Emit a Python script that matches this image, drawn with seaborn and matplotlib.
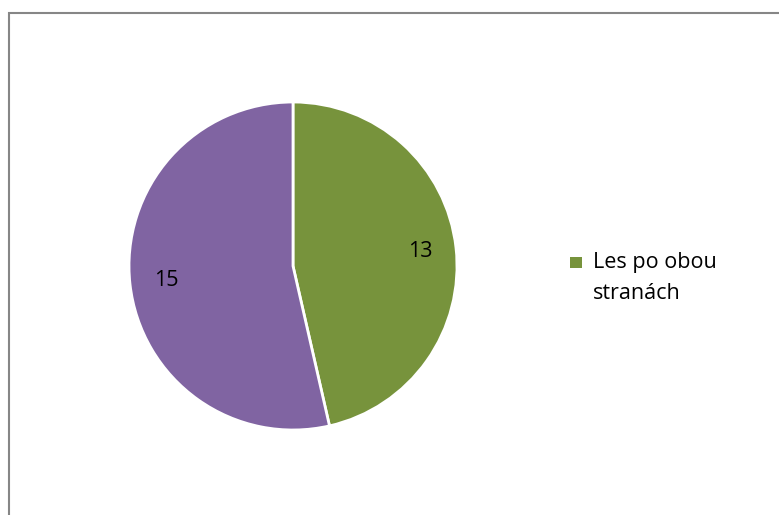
import seaborn as sns
import matplotlib.pyplot as plt
from matplotlib.patches import Rectangle
from matplotlib.legend_handler import HandlerPatch

# data
categories = ['Les po obou stranách', '']
values = [13, 15]
colors = ['#77933C', '#8064A2']

sns.set_theme(style='white')
plt.rcParams['font.family'] = ['Open Sans', 'DejaVu Sans']

W, H = 779, 515
fig = plt.figure(figsize=(W / 100, H / 100), dpi=100)

# chart border
fig.patches.append(Rectangle((9 / W, -0.05), 1.0, 1 - 13 / H + 0.05, transform=fig.transFigure,
                             fill=False, edgecolor='#868686', linewidth=1.5))

cx, cy, r = 293, 266, 164
ax = fig.add_axes([(cx - r) / W, (H - cy - r) / H, 2 * r / W, 2 * r / H])
wedges, texts = ax.pie(values, labels=[str(v) for v in values], colors=colors,
                       startangle=90, counterclock=False, labeldistance=0.78,
                       wedgeprops=dict(edgecolor='white', linewidth=2),
                       textprops=dict(fontsize=15.5, color='black'))
for t in texts:
    t.set_ha('center')
    t.set_va('center')
ax.set_xlim(-1, 1)
ax.set_ylim(-1, 1)
ax.set_aspect('equal')


# square legend marker aligned with the first line of the label
class SquareHandler(HandlerPatch):
    def create_artists(self, legend, orig_handle, xdescent, ydescent, width, height,
                       fontsize, trans):
        s = 8.6
        p = Rectangle((-xdescent, -ydescent + height / 2 - s / 2 + 11.5), s, s,
                      facecolor=orig_handle.get_facecolor(), edgecolor='none')
        p.set_transform(trans)
        return [p]


leg = fig.legend([wedges[0]], ['Les po obou\nstranách'], loc='center left',
                 bbox_to_anchor=(570 / W, 1 - 278 / H), frameon=False, fontsize=15.5,
                 borderpad=0, borderaxespad=0, handlelength=0.555, handletextpad=0.5,
                 handler_map={type(wedges[0]): SquareHandler()})
for t in leg.get_texts():
    t.set_linespacing(1.65)
    t.set_color('black')

fig.savefig('out.png', dpi=100)
